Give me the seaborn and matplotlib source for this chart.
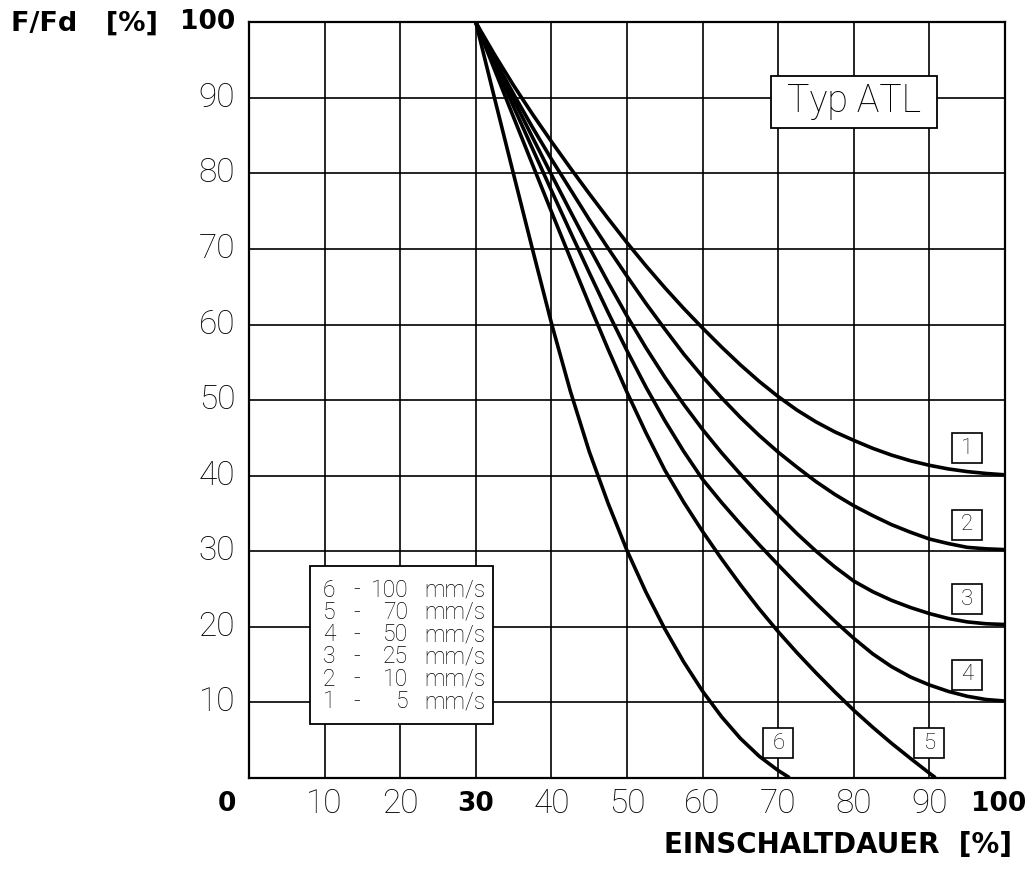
import numpy as np
import pandas as pd
import matplotlib
matplotlib.use("Agg")
import matplotlib.pyplot as plt
from matplotlib.patches import Rectangle
import seaborn as sns

# ---------------- data ----------------
curve_ids = [1, 2, 3, 4, 5, 6]
speeds = [5, 10, 25, 50, 70, 100]  # mm/s

x_std = [30, 32.5, 35, 37.5, 40, 42.5, 45, 47.5, 50, 52.5, 55, 57.5, 60, 62.5, 65,
         67.5, 70, 72.5, 75, 77.5, 80, 82.5, 85, 87.5, 90, 92.5, 95, 97.5, 100]

x1 = x_std
y1 = [100, 95.7, 91.65, 87.85, 84.23, 80.73, 77.33, 74.03, 70.83, 67.78, 64.88, 62.13,
      59.53, 57.03, 54.66, 52.46, 50.46, 48.66, 47.11, 45.78, 44.66, 43.61, 42.71, 41.96,
      41.36, 40.88, 40.53, 40.28, 40.1]

x2 = x_std
y2 = [100, 95.1, 90.5, 86.1, 81.9, 77.9, 73.9, 70.1, 66.4, 62.8, 59.4, 56.1, 53.1, 50.3,
      47.7, 45.3, 43.1, 41.1, 39.2, 37.5, 36.0, 34.7, 33.5, 32.5, 31.6, 31.0, 30.5, 30.3,
      30.2]

x3 = x_std
y3 = [100, 94.85, 89.78, 84.78, 79.85, 75.0, 70.23, 65.58, 61.13, 56.93, 53.03, 49.43,
      46.10, 43.03, 40.18, 37.43, 34.80, 32.30, 30.0, 27.9, 26.03, 24.63, 23.48, 22.53,
      21.73, 21.08, 20.63, 20.38, 20.28]

x4 = x_std
y4 = [100, 94.4, 88.83, 83.28, 77.75, 72.28, 66.88, 61.6, 56.53, 51.73, 47.28, 43.2,
      39.5, 36.45, 33.58, 30.83, 28.18, 25.6, 23.1, 20.7, 18.45, 16.4, 14.7, 13.33, 12.28,
      11.43, 10.78, 10.35, 10.15]

x5 = [30, 32.5, 35, 37.5, 40, 42.5, 45, 47.5, 50, 52.5, 55, 57.5, 60, 62.5, 65, 67.5,
      70, 72.5, 75, 77.5, 80, 82.5, 85, 87.5, 90, 90.8]
y5 = [100, 93.7, 87.43, 81.18, 74.95, 68.78, 62.68, 56.73, 51.03, 45.68, 40.73, 36.48,
      32.6, 28.98, 25.55, 22.33, 19.33, 16.53, 13.88, 11.35, 8.93, 6.68, 4.55, 2.55, 0.6, 0]

x6 = [30, 32.5, 35, 37.5, 40, 42.5, 45, 47.5, 50, 52.5, 55, 57.5, 60, 62.5, 65, 67.5,
      70, 71.5]
y6 = [100, 89.88, 79.88, 69.95, 60.2, 51.2, 43.2, 36.33, 30.08, 24.58, 19.7, 15.33,
      11.45, 8.08, 5.2, 2.83, 0.95, 0]

xs = [x1, x2, x3, x4, x5, x6]
ys = [y1, y2, y3, y4, y5, y6]

x_ticks = [0, 10, 20, 30, 40, 50, 60, 70, 80, 90, 100]
y_ticks = [10, 20, 30, 40, 50, 60, 70, 80, 90, 100]
bold_x = [0, 30, 100]
bold_y = [100]

# curve number label anchors (x, y)
label_x = [95, 95, 95, 95, 90, 70]
label_y = [43.6, 33.5, 23.6, 13.6, 4.55, 4.55]

df = pd.concat(
    [pd.DataFrame({"x": xx, "y": yy, "curve": cid}) for cid, xx, yy in zip(curve_ids, xs, ys)],
    ignore_index=True,
)

# ---------------- styling ----------------
sns.set_style("white")
THIN = ["Roboto", "Lato", "DejaVu Sans"]
BOLD = ["DejaVu Sans"]
THIN_W = "light"
plt.rcParams["font.family"] = THIN
plt.rcParams["text.color"] = "black"
plt.rcParams["xtick.color"] = "black"
plt.rcParams["ytick.color"] = "black"
plt.rcParams["xtick.labelcolor"] = "black"
plt.rcParams["ytick.labelcolor"] = "black"

W, H = 1035, 871
fig = plt.figure(figsize=(W / 100, H / 100), dpi=100)
L, R, T, B = 249, 1005, 22.4, 777.7
ax = fig.add_axes([L / W, (H - B) / H, (R - L) / W, (B - T) / H])

sns.lineplot(
    data=df, x="x", y="y", units="curve", estimator=None, sort=False,
    color="black", lw=2.6, ax=ax, legend=False, zorder=3,
)
for ln in ax.get_lines():
    ln.set_solid_joinstyle("round")
    ln.set_solid_capstyle("butt")

ax.set_xlim(0, 100)
ax.set_ylim(0, 100)
ax.set_xlabel("")
ax.set_ylabel("")
ax.set_axisbelow(True)
ax.grid(True, color="black", lw=1.2)
for s in ax.spines.values():
    s.set_color("black")
    s.set_linewidth(1.6)
    s.set_zorder(6)

THIN_SIZE = 24
BOLD_SIZE = 19

# x tick labels
ax.set_xticks(x_ticks)
ax.set_xticklabels(["" if v in (0, 100) else str(v) for v in x_ticks])
ax.tick_params(axis="x", length=0, pad=19)
for lab, v in zip(ax.get_xticklabels(), x_ticks):
    lab.set_va("center")
    lab.set_color("black")
    if v in bold_x:
        lab.set_family(BOLD)
        lab.set_weight("bold")
        lab.set_fontsize(BOLD_SIZE)
    else:
        lab.set_family(THIN)
        lab.set_weight(THIN_W)
        lab.set_fontsize(THIN_SIZE)
ax.annotate("0", xy=(0, 0), xycoords="data", xytext=(-16, -19), textcoords="offset points",
            ha="center", va="center", family=BOLD, weight="bold", fontsize=BOLD_SIZE)
ax.annotate("100", xy=(100, 0), xycoords="data", xytext=(-4.5, -19), textcoords="offset points",
            ha="center", va="center", family=BOLD, weight="bold", fontsize=BOLD_SIZE)

# y tick labels
ax.set_yticks([0] + y_ticks)
ax.set_yticklabels([""] + [str(v) for v in y_ticks])
ax.tick_params(axis="y", length=0, pad=10)
for lab, v in zip(ax.get_yticklabels(), [0] + y_ticks):
    lab.set_va("center")
    lab.set_color("black")
    if v in bold_y:
        lab.set_family(BOLD)
        lab.set_weight("bold")
        lab.set_fontsize(BOLD_SIZE)
    else:
        lab.set_family(THIN)
        lab.set_weight(THIN_W)
        lab.set_fontsize(THIN_SIZE)

# axis titles
fig.text(11 / W, (H - 24) / H, "F/Fd   [%]", ha="left", va="center",
         family=BOLD, weight="bold", fontsize=19.5)
fig.text(1012 / W, (H - 845) / H, "EINSCHALTDAUER  [%]", ha="right", va="center",
         family=BOLD, weight="bold", fontsize=20)

# "Typ ATL" box
ax.add_patch(Rectangle((69.0, 86.06), 22.05, 6.88, fc="white", ec="black", lw=1.3, zorder=7))
ax.text(80.0, 89.5, "Typ ATL", ha="center", va="center", fontsize=27, weight=THIN_W,
        family=THIN, zorder=8)

# curve number boxes
ax.plot(label_x, label_y, ls="none", marker="s", ms=22, mfc="white", mec="black",
        mew=1.2, zorder=7)
for cid, lx, ly in zip(curve_ids, label_x, label_y):
    ax.text(lx, ly, str(cid), ha="center", va="center", fontsize=16, weight=THIN_W,
            family=THIN, zorder=8)

# speed legend box
ax.add_patch(Rectangle((0.0807, 0.0711), 0.2417, 0.2092, transform=ax.transAxes,
                       fc="white", ec="black", lw=1.3, zorder=7))
row_y = [0.1005, 0.1306, 0.1600, 0.1893, 0.2190, 0.2485]
for cid, sp, ry in zip(curve_ids, speeds, row_y):
    kw = dict(transform=ax.transAxes, va="center", fontsize=16.5, weight=THIN_W,
              family=THIN, zorder=8)
    ax.text(0.0979, ry, str(cid), ha="left", **kw)
    ax.text(0.1420, ry, "-", ha="center", **kw)
    ax.text(0.2107, ry, str(sp), ha="right", **kw)
    ax.text(0.2315, ry, "mm/s", ha="left", **kw)

fig.savefig("out.png", dpi=100)
